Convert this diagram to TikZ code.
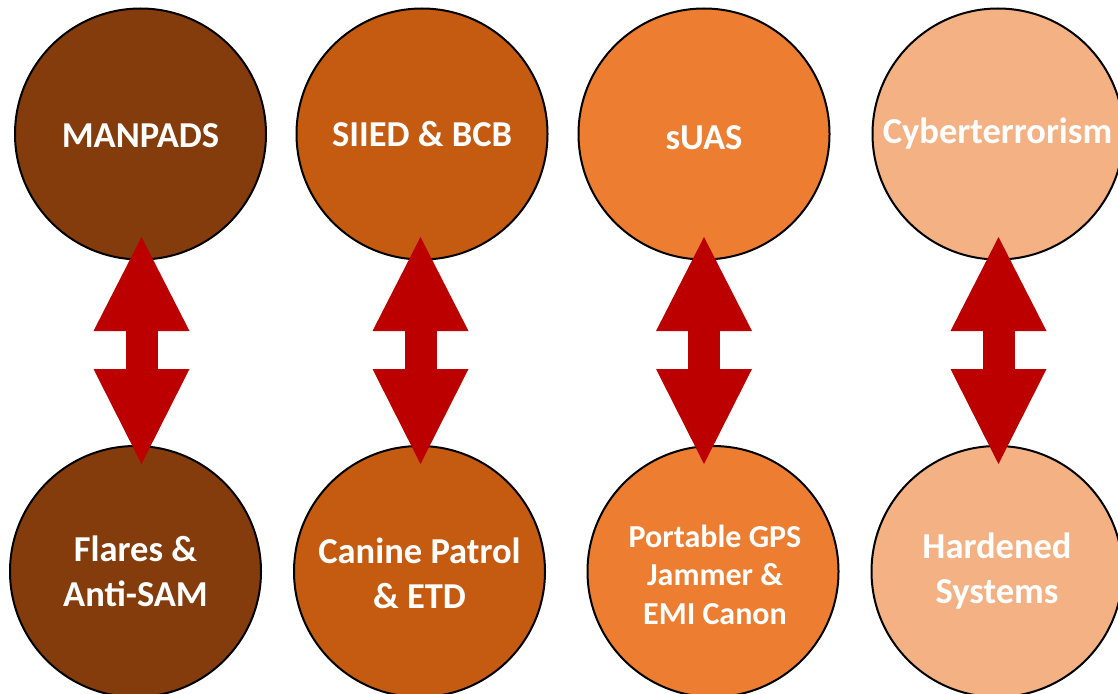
\documentclass[tikz,border=0pt]{standalone}
\usepackage{fontspec}
\setmainfont{Carlito}
\usetikzlibrary{arrows.meta,
                positioning, % For easy node-relative placements
               }
\definecolor{shade1}{HTML}{843C0C}
\definecolor{shade2}{HTML}{C55A11}
\definecolor{shade3}{HTML}{ED7D31}
\definecolor{shade4}{HTML}{F4B183}
\definecolor{arrowred}{HTML}{BC0000}
\tikzstyle{bubble} = [circle, minimum size=251pt, inner sep=0pt, draw=black, line width=2pt]
\tikzstyle{caption} = [text=white, align=center, font=\bfseries\fontsize{36.5}{45}\selectfont]
\tikzstyle{twoway} = [draw=arrowred, line width=32pt, {Triangle[width=96pt,length=94pt,line width=0pt]}-{Triangle[width=96pt,length=95pt,line width=0pt]}]

\begin{document}
\begin{tikzpicture}[x=1pt, y=-1pt]
  \useasboundingbox (0,0) rectangle (1118,693);
  % threats
  \node (t1) [bubble, fill=shade1] at (140.5,134) {};
  \node (t2) [bubble, fill=shade2] at (422,134) {};
  \node (t3) [bubble, fill=shade3] at (704,134) {};
  \node (t4) [bubble, fill=shade4] at (998,134) {};
  \node [caption] at ([yshift=-2pt]t1) {MANPADS};
  \node [caption] at (t2) {SIIED \& BCB};
  \node [caption] at ([yshift=-4pt]t3) {sUAS};
  \node [caption] at ([xshift=-0.5pt]t4) {Cyberterrorism};

  % countermeasures
  \node (m1) [bubble, fill=shade1] at (135.5,571.5) {};
  \node (m2) [bubble, fill=shade2] at (419.5,571.5) {};
  \node (m3) [bubble, fill=shade3] at (713,571.5) {};
  \node (m4) [bubble, fill=shade4] at (997,571.5) {};
  \node [caption] at (m1) {Flares \&\\Anti-SAM};
  \node [caption] at ([yshift=-2pt]m2) {Canine Patrol\\\& ETD};
  \node [caption, font=\bfseries\fontsize{32}{38.5}\selectfont] at ([xshift=2pt,yshift=-3pt]m3) {Portable GPS\\Jammer \&\\EMI Canon};
  \node [caption] at (m4) {Hardened\\Systems};

  \draw [twoway] ([xshift=1pt,yshift=23.5pt]t1.south) -- ([xshift=1pt,yshift=-19pt]t1.south |- m1.north);
  \draw [twoway] ([xshift=-1.5pt,yshift=23.5pt]t2.south) -- ([xshift=-1.5pt,yshift=-19pt]t2.south |- m2.north);
  \draw [twoway] ([yshift=23.5pt]t3.south) -- ([yshift=-19pt]t3.south |- m3.north);
  \draw [twoway] ([xshift=0.5pt,yshift=23.5pt]t4.south) -- ([xshift=0.5pt,yshift=-19pt]t4.south |- m4.north);
\end{tikzpicture}
\end{document}
